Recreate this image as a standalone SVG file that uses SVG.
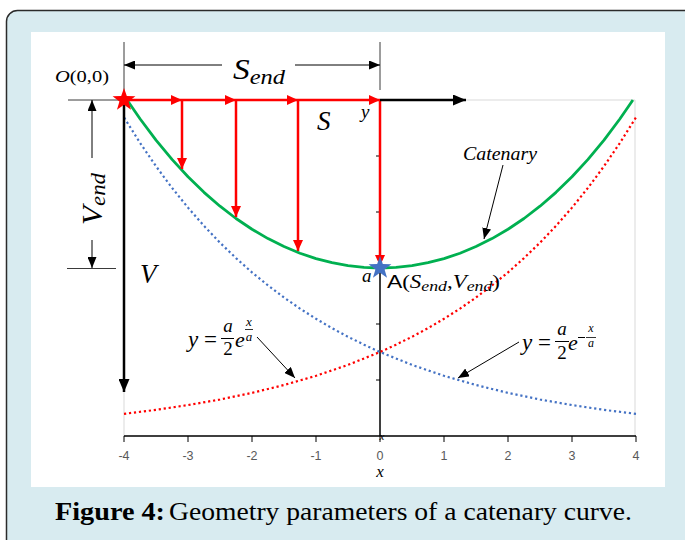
<svg xmlns="http://www.w3.org/2000/svg" width="685" height="540" viewBox="0 0 685 540">
<style>
.m{font-family:"Liberation Serif","DejaVu Serif",serif;font-style:italic;fill:#000}
.r{font-family:"Liberation Serif","DejaVu Serif",serif;fill:#000}
.tick{font-family:"Liberation Sans",Arial,sans-serif;font-size:12.5px;fill:#595959;text-anchor:middle}
.thin{stroke:#000;stroke-width:1;fill:none}
.dim{stroke:#3a3a3a;stroke-width:1;fill:none}
.grid{stroke:#d9d9d9;stroke-width:1;fill:none}
.axis{stroke:#000;stroke-width:1.5;fill:none}
.redA{stroke:#ff0000;stroke-width:2.5;fill:none;marker-end:url(#ar)}
.blkA{stroke:#000;stroke-width:2.5;fill:none;marker-end:url(#ab)}
.thinA{stroke:#000;stroke-width:1;fill:none;marker-end:url(#at)}
.dot{fill:none;stroke-width:2.2;stroke-dasharray:2.2 2.8}
</style>
<defs>
<marker id="ar" markerUnits="userSpaceOnUse" markerWidth="11" markerHeight="10" refX="11" refY="5" orient="auto"><path d="M0,0 L11,5 L0,10 z" fill="#ff0000"/></marker>
<marker id="ab" markerUnits="userSpaceOnUse" markerWidth="13" markerHeight="11" refX="13" refY="5.5" orient="auto"><path d="M0,0 L13,5.5 L0,11 z" fill="#000"/></marker>
<marker id="at" markerUnits="userSpaceOnUse" markerWidth="11" markerHeight="9" refX="11" refY="4.5" orient="auto"><path d="M0,0 L11,4.5 L0,9 z" fill="#000"/></marker>
<path id="star" d="M0,-12 L2.82,-3.88 L11.41,-3.71 L4.57,1.48 L7.05,9.71 L0,4.8 L-7.05,9.71 L-4.57,1.48 L-11.41,-3.71 L-2.82,-3.88 Z"/>
</defs>

<g id="frame">
<rect x="6.5" y="10.5" width="700" height="560" rx="11" fill="#d8ebf0" stroke="#2b2b2b" stroke-width="1.5"/>
<rect x="31" y="32" width="634" height="455" fill="#fff"/>
</g>

<g id="plot">
<path class="grid" d="M124,100 H635 V436 M124,100 V436"/>
<path class="axis" d="M124,436 H636 M380,100 V436"/>
<path class="thin" d="M124,436 v6 M188,436 v6 M252,436 v6 M316,436 v6 M380,436 v6 M444,436 v6 M508,436 v6 M572,436 v6 M636,436 v6 M376,380 h4 M376,324 h4 M376,268 h4 M376,212 h4 M376,156 h4"/>
<g id="ticks">
<text class="tick" x="124" y="460">-4</text>
<text class="tick" x="188" y="460">-3</text>
<text class="tick" x="252" y="460">-2</text>
<text class="tick" x="316" y="460">-1</text>
<text class="tick" x="380" y="460">0</text>
<text class="tick" x="444" y="460">1</text>
<text class="tick" x="508" y="460">2</text>
<text class="tick" x="572" y="460">3</text>
<text class="tick" x="636" y="460">4</text>
</g>
<text class="m" x="380" y="477" font-size="17" text-anchor="middle">x</text>
<text class="m" x="382" y="440" font-size="11" text-anchor="middle">x</text>
</g>

<g id="curves">
<polyline id="exp-pos" class="dot" stroke="#ff0000" points="124,413.86 156,409.84 188,405.10 220,399.49 252,392.87 284,385.05 316,375.81 348,364.90 380,352 396,344.7 412,336.77 428,328.2 444,318.77 460,308.6 476,297.51 492,285.4 508,272.39 524,258.1 540,242.72 556,225.9 572,207.66 588,187.8 604,166.25 620,142.8 636,117.33"/>
<polyline id="exp-neg" class="dot" stroke="#4472c4" points="636,413.86 604,409.84 572,405.10 540,399.49 508,392.87 476,385.05 444,375.81 412,364.90 380,352 364,344.7 348,336.77 332,328.2 316,318.77 300,308.6 284,297.51 268,285.4 252,272.39 236,258.1 220,242.72 204,225.9 188,207.66 172,187.8 156,166.25 140,142.8 124,117.33"/>
<polyline id="catenary" fill="none" stroke="#00b050" stroke-width="2.8" stroke-linejoin="round" points="127.1,100 140,118.74 156,140.10 172,159.39 188,176.76 204,192.33 220,206.21 236,218.49 252,229.26 268,238.60 284,246.56 300,253.21 316,258.58 332,262.72 348,265.66 364,267.42 380,268 396,267.42 412,265.66 428,262.72 444,258.58 460,253.21 476,246.56 492,238.60 508,229.26 524,218.49 540,206.21 556,192.33 572,176.76 588,159.39 604,140.10 620,118.74 632.9,100"/>
</g>

<g id="connectors">
<path class="dim" d="M124,42 V100 M380,42 V90 M68,100 H124 M67,268.5 H116"/>
<path class="thinA" d="M222,65 H124"/>
<path class="thinA" d="M295,65 H380"/>
<path class="thinA" d="M92,158 V100"/>
<path class="thinA" d="M92,240 V268"/>
<path class="redA" d="M124,100 H182"/>
<path class="redA" d="M182,100 H236"/>
<path class="redA" d="M236,100 H298"/>
<path class="redA" d="M298,100 H380"/>
<path class="redA" d="M182,100 V169"/>
<path class="redA" d="M236,100 V217"/>
<path class="redA" d="M298,100 V251"/>
<path class="redA" stroke-width="3" d="M380,100 V266"/>
<path class="blkA" d="M380,100 H466"/>
<path class="blkA" d="M124,100 V392"/>
<path class="thinA" d="M503,165 L484,239"/>
<path class="thinA" d="M257,337 L295,378"/>
<path class="thinA" d="M519,342 L458,378"/>
</g>

<g id="stars">
<use href="#star" x="124" y="100" fill="#ff0000"/>
<use href="#star" x="380" y="268" fill="#4472c4"/>
</g>

<g id="labels">
<text id="origin" class="r" x="55" y="82" font-size="17" textLength="54" lengthAdjust="spacingAndGlyphs"><tspan font-style="italic">O</tspan>(0,0)</text>
<text id="send" class="m" x="233" y="79" font-size="30" textLength="52" lengthAdjust="spacingAndGlyphs">S<tspan font-size="22" dy="5">end</tspan></text>
<text id="s" class="m" x="317" y="130" font-size="27">S</text>
<text id="vend" class="m" transform="translate(102,225) rotate(-90)" font-size="30" textLength="52" lengthAdjust="spacingAndGlyphs">V<tspan font-size="22" dy="3">end</tspan></text>
<text id="v" class="m" x="140" y="283" font-size="27">V</text>
<text id="ylab" class="m" x="361" y="118" font-size="19">y</text>
<text id="alab" class="m" x="362" y="282" font-size="19">a</text>
<text id="pointA" class="m" x="387" y="288" font-size="18" textLength="113" lengthAdjust="spacingAndGlyphs"><tspan font-family="Liberation Sans, Arial, sans-serif" font-style="normal">A</tspan><tspan font-style="normal">(</tspan>S<tspan font-size="14" dy="3">end</tspan><tspan dy="-3" font-style="normal">,</tspan>V<tspan font-size="14" dy="3">end</tspan><tspan dy="-3" font-style="normal">)</tspan></text>
<text id="catlab" class="m" x="463" y="160" font-size="18" textLength="74" lengthAdjust="spacingAndGlyphs">Catenary</text>
<g id="formula-left">
<text class="m" x="188" y="347" font-size="23">y</text>
<text class="r" x="204" y="347" font-size="23">=</text>
<text class="m" x="228" y="332" font-size="19" text-anchor="middle">a</text>
<line x1="221" y1="338.5" x2="234" y2="338.5" stroke="#000" stroke-width="1"/>
<text class="r" x="228" y="355" font-size="19" text-anchor="middle">2</text>
<text class="m" x="235" y="347" font-size="22">e</text>
<text class="m" x="249" y="326" font-size="13" text-anchor="middle">x</text>
<line x1="245" y1="329.5" x2="253" y2="329.5" stroke="#000" stroke-width="0.8"/>
<text class="m" x="249" y="341" font-size="13" text-anchor="middle">a</text>
</g>
<g id="formula-right">
<text class="m" x="522" y="350" font-size="23">y</text>
<text class="r" x="538" y="350" font-size="23">=</text>
<text class="m" x="562" y="335" font-size="19" text-anchor="middle">a</text>
<line x1="555" y1="341.5" x2="569" y2="341.5" stroke="#000" stroke-width="1"/>
<text class="r" x="562" y="359" font-size="19" text-anchor="middle">2</text>
<text class="m" x="568" y="350" font-size="22">e</text>
<line x1="578" y1="337.5" x2="585" y2="337.5" stroke="#000" stroke-width="1"/>
<text class="m" x="591" y="332" font-size="12" text-anchor="middle">x</text>
<line x1="586" y1="337.5" x2="596" y2="337.5" stroke="#000" stroke-width="0.8"/>
<text class="m" x="591" y="347" font-size="12" text-anchor="middle">a</text>
</g>
</g>

<g id="caption">
<text class="r" x="55" y="520" font-size="26" font-weight="bold" fill="#111" textLength="110" lengthAdjust="spacingAndGlyphs">Figure 4:</text>
<text class="r" x="169" y="520" font-size="26" fill="#111" textLength="463" lengthAdjust="spacingAndGlyphs">Geometry parameters of a catenary curve.</text>
</g>
</svg>
